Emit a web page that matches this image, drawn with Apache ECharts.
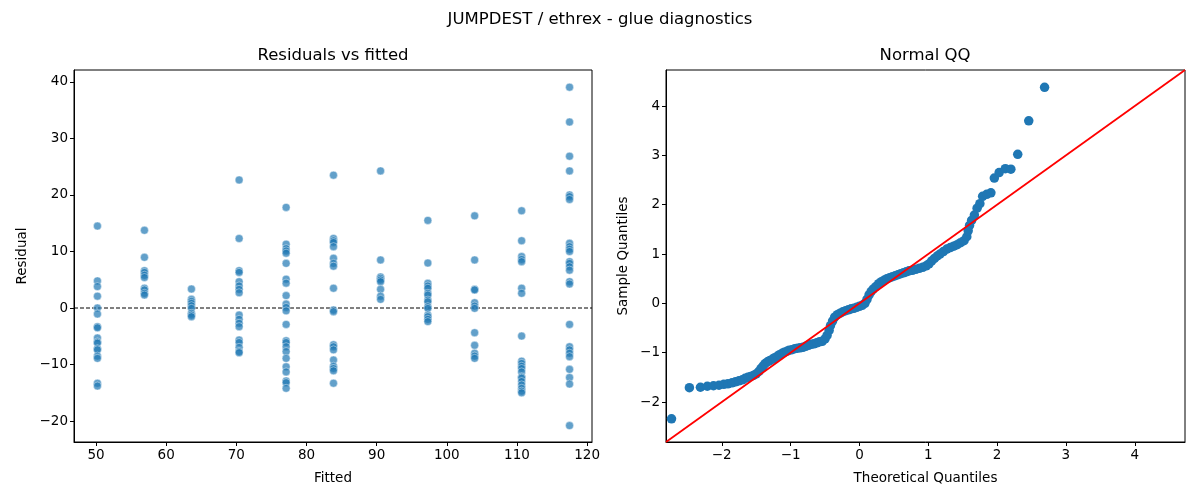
<!DOCTYPE html>
<html>
<head>
<meta charset="utf-8">
<script src="https://cdn.jsdelivr.net/npm/echarts@6/dist/echarts.min.js"></script>
<style>
  html, body { margin: 0; padding: 0; background: #fff; }
  #chart { width: 1200px; height: 500px; }
</style>
</head>
<body>
<div id="chart"></div>
<script>
// fitted levels (one column of points per level)
var fittedLevels = [50.2, 56.9, 63.6, 70.4, 77.1, 83.85, 90.56, 97.3, 103.97, 110.67, 117.5];

// residuals read per fitted level
var residualGroups = [
    [14.5, 4.8, 3.8, 2.1, 0, -1.06, -3.3, -3.5, -5.3, -6.0, -6.2, -7.2, -7.4, -8.5, -8.9, -13.3, -13.8],
    [13.75, 8.97, 6.6, 6.3, 5.8, 5.4, 3.5, 3.2, 2.6, 2.3],
    [3.36, 1.53, 1.18, 0.83, 0.41, -0.06, -0.94, -1.24, -1.53],
    [22.65, 12.3, 6.6, 6.3, 4.65, 3.9, 3.3, 2.7, -1.24, -2.0, -2.7, -3.3, -5.66, -6.1, -6.96, -7.7, -7.9],
    [17.8, 11.3, 10.5, 10.1, 9.7, 7.9, 5.1, 4.4, 2.2, 0.7, 0.1, -0.5, -2.9, -5.8, -6.1, -6.85, -7.7, -8.9, -10.4, -11.3, -12.9, -13.2, -14.2],
    [23.5, 12.3, 11.9, 11.6, 10.85, 8.8, 7.9, 7.4, 3.5, -0.35, -0.65, -6.5, -6.85, -7.4, -9.2, -10.3, -10.7, -11.1, -13.3],
    [24.25, 8.5, 5.5, 5.25, 4.96, 4.66, 3.3, 2.1, 1.53],
    [15.5, 7.96, 4.37, 3.9, 3.5, 2.6, 2.3, 1.4, 1.1, 0.24, -0.06, -1.24, -1.53, -2.0, -2.4],
    [16.3, 8.5, 3.3, 3.2, 0.94, 0.35, -0.06, -4.37, -6.6, -8.0, -8.5, -8.9],
    [17.2, 11.9, 9.1, 8.6, 8.2, 3.5, 2.6, -4.96, -9.4, -9.8, -10.3, -10.7, -11.3, -12.2, -12.4, -13.0, -13.6, -14.2, -14.7, -15.0],
    [39.06, 32.9, 26.85, 24.25, 20.0, 19.7, 19.2, 11.45, 10.85, 10.4, 10.0, 8.2, 7.9, 7.3, 6.7, 4.66, 4.25, -2.9, -6.85, -7.4, -8.0, -8.6, -10.85, -12.3, -13.45, -20.8]
];

// normal QQ points (theoretical, sample)
var qqTheoretical = [
    -2.73, -2.47, -2.31, -2.21, -2.12, -2.04, -1.97, -1.91, -1.85, -1.80, -1.75, -1.70, -1.66, -1.62, -1.58, -1.54,
    -1.50, -1.46, -1.43, -1.40, -1.37, -1.33, -1.30, -1.26, -1.23, -1.19, -1.16, -1.12, -1.09, -1.05, -1.02, -0.98,
    -0.94, -0.90, -0.86, -0.82, -0.78, -0.74, -0.70, -0.66, -0.62, -0.58, -0.54, -0.50, -0.47, -0.44, -0.42, -0.39,
    -0.36, -0.32, -0.28, -0.24, -0.20, -0.16, -0.12, -0.08, -0.04, 0.00, 0.04, 0.08, 0.11, 0.14, 0.17, 0.20,
    0.24, 0.28, 0.32, 0.36, 0.40, 0.44, 0.48, 0.52, 0.56, 0.60, 0.64, 0.68, 0.72, 0.77, 0.82, 0.87,
    0.92, 0.97, 1.01, 1.05, 1.09, 1.13, 1.17, 1.22, 1.27, 1.32, 1.37, 1.42, 1.47, 1.52, 1.56, 1.58,
    1.60, 1.63, 1.67, 1.71, 1.75, 1.79, 1.85, 1.91, 1.96, 2.03, 2.12, 2.20, 2.30, 2.46, 2.69
];
var qqSample = [
    -2.34, -1.71, -1.70, -1.68, -1.67, -1.66, -1.64, -1.63, -1.61, -1.59, -1.57, -1.55, -1.52, -1.50, -1.48, -1.46,
    -1.43, -1.38, -1.32, -1.27, -1.22, -1.18, -1.16, -1.13, -1.10, -1.07, -1.04, -1.01, -0.99, -0.97, -0.95, -0.94,
    -0.92, -0.91, -0.90, -0.89, -0.87, -0.85, -0.83, -0.82, -0.80, -0.78, -0.77, -0.72, -0.65, -0.55, -0.45, -0.36,
    -0.28, -0.23, -0.20, -0.17, -0.15, -0.13, -0.11, -0.10, -0.08, -0.06, -0.04, 0.00, 0.08, 0.17, 0.24, 0.29,
    0.34, 0.40, 0.44, 0.47, 0.50, 0.52, 0.54, 0.56, 0.58, 0.60, 0.62, 0.64, 0.66, 0.67, 0.69, 0.71,
    0.73, 0.76, 0.80, 0.86, 0.91, 0.96, 1.00, 1.05, 1.10, 1.13, 1.16, 1.19, 1.23, 1.27, 1.35, 1.47,
    1.58, 1.68, 1.79, 1.93, 2.02, 2.17, 2.21, 2.24, 2.54, 2.65, 2.73, 2.72, 3.02, 3.70, 4.38
];

// axis limits and tick labels
var fittedRange = [46.86, 120.7];
var residualRange = [-23.7, 42.1];
var qqRange = [-2.81, 4.73];
var fittedTicks = [50, 60, 70, 80, 90, 100, 110, 120];
var residualTicks = [-20, -10, 0, 10, 20, 30, 40];
var qqTicks = [-2, -1, 0, 1, 2, 3, 4];

var residPoints = [];
for (var i = 0; i < fittedLevels.length; i++) {
    for (var j = 0; j < residualGroups[i].length; j++) {
        residPoints.push([fittedLevels[i], residualGroups[i][j]]);
    }
}
var qqPoints = [];
for (var k = 0; k < qqTheoretical.length; k++) {
    qqPoints.push([qqTheoretical[k], qqSample[k]]);
}

var FONT = 'DejaVu Sans';

function makeAxis(gridIndex, range, ticks, name, gap) {
    return {
        type: 'value',
        gridIndex: gridIndex,
        min: range[0],
        max: range[1],
        name: name,
        nameLocation: 'middle',
        nameGap: gap,
        nameTextStyle: { fontFamily: FONT, fontSize: 13.5, color: '#000' },
        axisLine: { show: true, onZero: false, lineStyle: { color: '#000', width: 1 } },
        axisTick: { show: true, length: 4, lineStyle: { color: '#000' }, customValues: ticks },
        axisLabel: {
            fontFamily: FONT, fontSize: 13.5, color: '#000', margin: 6,
            customValues: ticks,
            formatter: function (v) { return String(v).replace('-', '\u2212'); }
        },
        splitLine: { show: false }
    };
}

var chart = echarts.init(document.getElementById('chart'));

var option = {
    animation: false,
    backgroundColor: '#fff',
    title: {
        text: 'JUMPDEST / ethrex - glue diagnostics',
        left: 'center',
        top: 6,
        textStyle: { fontFamily: FONT, fontSize: 16.5, fontWeight: 'normal', color: '#000' }
    },
    graphic: [
        { type: 'text', x: 333, y: 56, style: { text: 'Residuals vs fitted', textAlign: 'center', textVerticalAlign: 'middle', font: '16.5px "DejaVu Sans"', fill: '#000' } },
        { type: 'text', x: 925, y: 56, style: { text: 'Normal QQ', textAlign: 'center', textVerticalAlign: 'middle', font: '16.5px "DejaVu Sans"', fill: '#000' } }
    ],
    grid: [
        { left: 74, right: 608, top: 70, bottom: 58, show: true, borderColor: '#000', borderWidth: 1, backgroundColor: 'transparent' },
        { left: 666, right: 15, top: 70, bottom: 58, show: true, borderColor: '#000', borderWidth: 1, backgroundColor: 'transparent' }
    ],
    xAxis: [
        makeAxis(0, fittedRange, fittedTicks, 'Fitted', 29),
        makeAxis(1, qqRange, qqTicks, 'Theoretical Quantiles', 29)
    ],
    yAxis: [
        makeAxis(0, residualRange, residualTicks, 'Residual', 45),
        makeAxis(1, qqRange, qqTicks, 'Sample Quantiles', 36)
    ],
    series: [
        {
            type: 'line',
            xAxisIndex: 0, yAxisIndex: 0,
            data: [[fittedRange[0], 0], [fittedRange[1], 0]],
            symbol: 'none',
            lineStyle: { color: '#000', width: 1, type: [4, 2] },
            z: 1
        },
        {
            type: 'scatter',
            xAxisIndex: 0, yAxisIndex: 0,
            data: residPoints,
            symbolSize: 8,
            itemStyle: { color: '#1f77b4', borderColor: '#fff', borderWidth: 0.6, opacity: 0.7 },
            z: 2
        },
        {
            type: 'scatter',
            xAxisIndex: 1, yAxisIndex: 1,
            data: qqPoints,
            symbolSize: 9.5,
            itemStyle: { color: '#1f77b4', opacity: 1 },
            z: 2
        },
        {
            type: 'line',
            xAxisIndex: 1, yAxisIndex: 1,
            data: [[qqRange[0], qqRange[0]], [qqRange[1], qqRange[1]]],
            symbol: 'none',
            lineStyle: { color: '#ff0000', width: 1.8 },
            z: 3
        }
    ]
};

chart.setOption(option);
</script>
</body>
</html>
